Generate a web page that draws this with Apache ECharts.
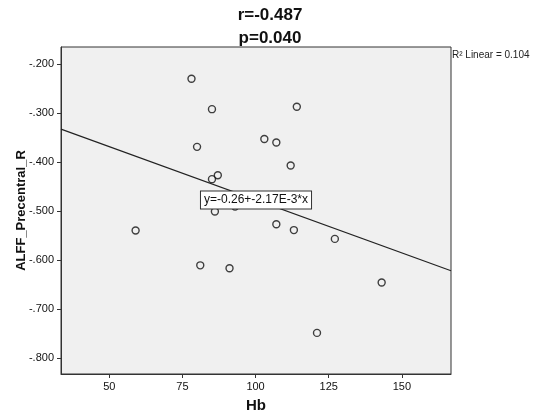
<!DOCTYPE html>
<html>
<head>
<meta charset="utf-8">
<script src="https://cdn.jsdelivr.net/npm/echarts@6/dist/echarts.min.js"></script>
<style>
  html, body { margin: 0; padding: 0; background: #fff; }
  #chart { width: 536px; height: 414px; }
</style>
</head>
<body>
<div id="chart"></div>
<script>
// Hb 与 ALFF_Precentral_R 散点 + 线性拟合
const hb = [78.1, 85.1, 114.1, 103.0, 107.1, 80.0, 112.0, 87.1, 85.1, 93.0,
            86.1, 59.0, 107.1, 113.1, 81.1, 91.1, 143.1, 121.0, 127.1];
const alff = [-0.230, -0.292, -0.287, -0.353, -0.360, -0.369, -0.407, -0.427, -0.435, -0.491,
              -0.501, -0.540, -0.527, -0.539, -0.611, -0.617, -0.646, -0.749, -0.557];
const xTicks = [50, 75, 100, 125, 150];
const yTicks = [-0.8, -0.7, -0.6, -0.5, -0.4, -0.3, -0.2];
const intercept = -0.26;
const slope = -2.17e-3;
const xRange = [33.5, 166.8];
const yRange = [-0.833, -0.165];

const points = hb.map((v, i) => [v, alff[i]]);
const fitLine = xRange.map(x => [x, intercept + slope * x]);
const midX = (xRange[0] + xRange[1]) / 2;

const font = 'Liberation Sans, Arial, sans-serif';
const chart = echarts.init(document.getElementById('chart'));
chart.setOption({
    animation: false,
    title: [
        { text: 'r=-0.487', left: 265, top: 2, textAlign: 'center',
          textStyle: { fontFamily: font, fontSize: 17, fontWeight: 'bold', color: '#111' } },
        { text: 'p=0.040', left: 265, top: 25, textAlign: 'center',
          textStyle: { fontFamily: font, fontSize: 17, fontWeight: 'bold', color: '#111' } },
        { text: 'R² Linear = 0.104', left: 447, top: 45,
          textStyle: { fontFamily: font, fontSize: 10, fontWeight: 'normal', color: '#222' } }
    ],
    grid: {
        left: 61, right: 85, top: 47, bottom: 40,
        outerBoundsMode: 'none', containLabel: false,
        show: true, backgroundColor: '#f0f0f0', borderColor: '#333', borderWidth: 1
    },
    xAxis: {
        type: 'value', min: xRange[0], max: xRange[1],
        name: 'Hb', nameLocation: 'middle', nameGap: 24, nameMoveOverlap: false,
        nameTextStyle: { fontFamily: font, fontSize: 15, fontWeight: 'bold', color: '#111' },
        axisLine: { show: true, lineStyle: { color: '#333', width: 1 } },
        axisTick: { show: true, length: 4, customValues: xTicks, lineStyle: { color: '#333' } },
        axisLabel: { customValues: xTicks, fontFamily: font, fontSize: 11, color: '#111', margin: 7 },
        splitLine: { show: false }
    },
    yAxis: {
        type: 'value', min: yRange[0], max: yRange[1],
        name: 'ALFF_Precentral_R', nameLocation: 'middle', nameGap: 33, nameRotate: 90,
        nameMoveOverlap: false,
        nameTextStyle: { fontFamily: font, fontSize: 13, fontWeight: 'bold', color: '#111' },
        axisLine: { show: true, lineStyle: { color: '#333', width: 1 } },
        axisTick: { show: true, length: 4, customValues: yTicks, lineStyle: { color: '#333' } },
        axisLabel: {
            customValues: yTicks, fontFamily: font, fontSize: 11, color: '#111', margin: 7,
            formatter: v => v.toFixed(3).replace('0.', '.')
        },
        splitLine: { show: false }
    },
    series: [
        {
            type: 'line', data: fitLine, symbol: 'none', silent: true,
            lineStyle: { color: '#222', width: 1.2 },
            markPoint: {
                symbol: 'rect', symbolSize: 0,
                data: [{ coord: [midX, intercept + slope * midX] }],
                label: {
                    show: true, position: 'inside',
                    formatter: 'y=-0.26+-2.17E-3*x',
                    fontFamily: font, fontSize: 12, color: '#111',
                    backgroundColor: '#fff', borderColor: '#333', borderWidth: 1,
                    padding: [3, 3, 2, 3]
                }
            },
            z: 3
        },
        {
            type: 'scatter', data: points, symbol: 'circle', symbolSize: 7,
            itemStyle: { color: 'rgba(0,0,0,0)', borderColor: '#111', borderWidth: 1.4 },
            z: 2
        }
    ]
});
</script>
</body>
</html>
